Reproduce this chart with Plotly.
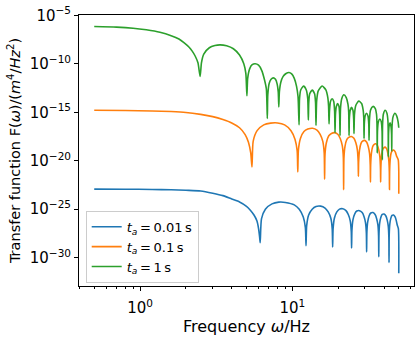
import plotly.graph_objects as go

# ---------------- data ----------------
# frequency in Hz, transfer function given as log10 of its value
freq_blue = [0.5, 0.8, 1.2, 1.6, 2.0, 2.5, 3.0, 3.5, 4.0, 4.5, 5.0, 5.3, 5.6, 5.85, 6.0, 6.1, 6.15,
             6.27, 6.65, 7.35, 8.15, 9.0, 10.3, 11.1, 11.8, 12.18, 12.3,
             12.42, 12.8, 13.5, 14.3, 15.35, 16.4, 17.2, 17.9, 18.28, 18.4,
             18.52, 18.9, 19.6, 20.4, 21.45, 22.5, 23.3, 24.0, 24.38, 24.5,
             24.62, 25.0, 25.7, 26.5, 27.6, 28.75, 29.55, 30.25, 30.63, 30.75,
             30.87, 31.25, 31.95, 32.75, 33.85, 34.95, 35.75, 36.45, 36.83, 36.95,
             37.07, 37.45, 38.15, 38.95, 40.05, 41.15, 41.95, 42.65, 43.03, 43.15,
             43.27, 43.65, 44.35, 45.15, 46.2, 47.3, 48.1, 48.8, 49.7, 50.0]
log10F_blue = [-22.93, -22.94, -22.96, -23.0, -23.05, -23.12, -23.35, -23.6, -23.95, -24.25, -24.7, -25.1, -25.6, -26.2, -27.0, -27.9, -28.45,
               -26.0, -25.0, -24.45, -24.27, -24.3, -24.55, -25.0, -25.8, -26.9, -28.76,
               -26.7, -25.6, -25.0, -24.72, -24.68, -24.88, -25.28, -25.93, -27.03, -28.9,
               -27.0, -25.9, -25.27, -24.99, -24.95, -25.15, -25.55, -26.2, -27.3, -29.0,
               -27.2, -26.1, -25.47, -25.19, -25.15, -25.35, -25.75, -26.4, -27.5, -29.4,
               -27.4, -26.3, -25.67, -25.39, -25.35, -25.55, -25.95, -26.6, -27.7, -29.9,
               -27.55, -26.45, -25.82, -25.54, -25.5, -25.7, -26.1, -26.75, -27.85, -30.5,
               -27.65, -26.55, -25.92, -25.64, -25.6, -25.8, -26.15, -26.6, -27.0, -31.6]

freq_orange = [0.5, 0.8, 1.2, 1.6, 2.0, 2.5, 3.0, 3.5, 4.0, 4.5, 4.9, 5.15, 5.33, 5.43,
               5.53, 5.87, 6.49, 7.2, 8.0, 8.9, 9.8, 10.42, 10.76, 10.86,
               10.96, 11.3, 11.92, 12.63, 13.57, 14.52, 15.23, 15.85, 16.19, 16.29,
               16.39, 16.73, 17.35, 18.06, 19.0, 19.95, 20.66, 21.28, 21.62, 21.72,
               21.82, 22.16, 22.78, 23.49, 24.43, 25.38, 26.09, 26.71, 27.05, 27.15,
               27.25, 27.59, 28.21, 28.92, 29.86, 30.81, 31.52, 32.14, 32.48, 32.58,
               32.68, 33.02, 33.64, 34.35, 35.3, 36.24, 36.95, 37.57, 37.91, 38.01,
               38.11, 38.45, 39.07, 39.78, 40.72, 41.67, 42.38, 43.0, 43.34, 43.44,
               43.54, 43.88, 44.5, 45.21, 46.3, 47.4, 48.3, 49.6, 50.0]
log10F_orange = [-14.8, -14.82, -14.87, -14.93, -15.02, -15.22, -15.45, -15.75, -16.1, -16.6, -17.3, -18.1, -19.2, -20.64,
                 -18.0, -16.9, -16.3, -16.12, -16.1, -16.3, -16.9, -17.8, -19.0, -21.15,
                 -18.9, -17.7, -16.98, -16.74, -16.65, -16.84, -17.28, -18.0, -19.2, -21.9,
                 -19.35, -18.15, -17.43, -17.19, -17.1, -17.29, -17.73, -18.45, -19.65, -23.0,
                 -19.75, -18.55, -17.83, -17.59, -17.5, -17.69, -18.13, -18.85, -20.05, -21.6,
                 -20.15, -18.95, -18.23, -17.99, -17.9, -18.09, -18.53, -19.25, -20.45, -22.2,
                 -20.5, -19.3, -18.58, -18.34, -18.25, -18.44, -18.88, -19.6, -20.8, -22.2,
                 -20.85, -19.65, -18.93, -18.69, -18.6, -18.79, -19.23, -19.95, -21.15, -22.96,
                 -21.15, -19.95, -19.23, -18.99, -18.9, -19.09, -19.5, -19.9, -23.4]

freq_green = [0.5, 0.7, 0.9, 1.1, 1.35, 1.6, 1.8, 1.95, 2.1, 2.2, 2.3, 2.4, 2.48,
              2.53, 2.62, 2.85, 3.1, 3.35, 3.7, 4.1, 4.5, 4.8, 4.95, 5.03,
              5.09, 5.25, 5.45, 5.7, 6.0, 6.3, 6.55, 6.75, 6.85,
              6.9, 7.05, 7.25, 7.5, 7.75, 7.95, 8.08, 8.15,
              8.22, 8.4, 8.7, 9.1, 9.5, 9.9, 10.3, 10.65, 10.9, 11.07,
              11.15, 11.35, 11.85, 12.35, 12.62, 12.74,
              12.82, 13.0, 13.5, 14.0, 14.2, 14.3,
              14.45, 14.8, 15.7, 16.6, 17.1, 17.3, 17.42,
              17.55, 17.8, 18.25, 18.7, 18.95, 19.07,
              19.2, 19.45, 19.85, 20.25, 20.45, 20.57,
              20.72, 21.1, 21.8, 22.6, 23.2, 23.45, 23.57,
              23.7, 24.0, 24.5, 25.0, 25.28, 25.4,
              25.6, 26.1, 27.3, 28.5, 29.2, 29.45, 29.57,
              29.7, 30.05, 30.75, 31.4, 31.78, 31.9,
              32.1, 32.6, 33.8, 35.0, 35.7, 35.95, 36.1,
              36.25, 36.7, 37.6, 38.4, 38.85, 38.99,
              39.15, 39.6, 40.7, 41.8, 42.4, 42.58, 42.7,
              42.85, 43.2, 43.8, 44.5, 44.85, 44.96,
              45.15, 45.8, 47.2, 48.5, 49.5, 50.0]
log10F_green = [-6.16, -6.22, -6.33, -6.5, -6.75, -7.1, -7.45, -7.85, -8.3, -8.7, -9.2, -9.9, -11.3,
                -9.9, -9.0, -8.35, -8.12, -8.05, -8.15, -8.45, -9.1, -10.0, -11.0, -13.3,
                -11.5, -10.5, -10.1, -10.0, -10.15, -10.7, -11.6, -12.6, -15.65,
                -13.2, -12.0, -11.6, -11.45, -11.6, -12.1, -12.9, -14.45,
                -12.9, -11.9, -11.3, -11.0, -10.9, -11.05, -11.5, -12.3, -13.4, -16.3,
                -13.6, -12.7, -12.3, -12.7, -13.6, -15.8,
                -14.0, -13.1, -12.7, -13.1, -14.0, -16.35,
                -13.8, -12.8, -12.3, -12.7, -13.5, -14.4, -16.2,
                -14.8, -13.9, -13.6, -13.9, -14.9, -17.1,
                -15.2, -14.4, -14.1, -14.4, -15.3, -17.4,
                -14.6, -13.6, -13.2, -13.5, -14.2, -15.0, -17.4,
                -15.6, -14.8, -14.5, -14.8, -15.7, -17.2,
                -15.2, -14.3, -13.85, -14.1, -14.8, -15.6, -17.7,
                -16.2, -15.4, -15.1, -15.4, -16.3, -17.9,
                -15.8, -14.8, -14.4, -14.6, -15.2, -16.1, -19.2,
                -16.9, -16.0, -15.7, -16.0, -17.0, -19.9,
                -16.2, -15.2, -14.8, -15.1, -15.8, -16.6, -19.6,
                -17.2, -16.4, -16.1, -16.5, -17.3, -19.0,
                -16.5, -15.5, -15.1, -15.4, -16.0, -16.6]

series_names = ["<i>t</i><sub><i>a</i></sub>\u2009=\u20090.01\u2009s",
                "<i>t</i><sub><i>a</i></sub>\u2009=\u20090.1\u2009s",
                "<i>t</i><sub><i>a</i></sub>\u2009=\u20091\u2009s"]
series_colors = ["#1f77b4", "#ff7f0e", "#2ca02c"]

x_tick_vals = [1, 10]
x_tick_text = ["10<sup>0</sup>", "10<sup>1</sup>"]
x_minor_vals = [0.4, 0.5, 0.6, 0.7, 0.8, 0.9, 2, 3, 4, 5, 6, 7, 8, 9, 20, 30, 40, 50, 60]
y_tick_vals = [1e-5, 1e-10, 1e-15, 1e-20, 1e-25, 1e-30]
y_tick_text = ["10<sup>\u22125</sup>", "10<sup>\u221210</sup>", "10<sup>\u221215</sup>",
               "10<sup>\u221220</sup>", "10<sup>\u221225</sup>", "10<sup>\u221230</sup>"]

# ---------------- figure ----------------
fig = go.Figure()
all_f = [freq_blue, freq_orange, freq_green]
all_e = [log10F_blue, log10F_orange, log10F_green]
for f, e, c, n in zip(all_f, all_e, series_colors, series_names):
    fig.add_trace(go.Scatter(x=f, y=[10 ** v for v in e], mode="lines", name=n,
                             line=dict(color=c, width=1.6, shape="spline", smoothing=0.6)))

font_family = "DejaVu Sans"
fig.update_layout(
    template="none",
    width=420, height=342,
    margin=dict(l=79, r=6, t=15, b=56),
    paper_bgcolor="white", plot_bgcolor="white",
    font=dict(family=font_family, size=15, color="black"),
    showlegend=True,
    legend=dict(x=0.02, y=0.012, xanchor="left", yanchor="bottom",
                bgcolor="rgba(255,255,255,0.8)", bordercolor="#cccccc", borderwidth=1,
                font=dict(family=font_family, size=13, color="black"),
                tracegroupgap=0),
)
fig.update_xaxes(
    type="log", range=[-0.40103, 1.79897], automargin=False,
    showline=True, mirror=True, linecolor="black", linewidth=1,
    showgrid=False, zeroline=False,
    tickmode="array", tickvals=x_tick_vals, ticktext=x_tick_text,
    ticks="outside", ticklen=4, tickwidth=1, tickcolor="black",
    tickfont=dict(size=15), ticklabelstandoff=4,
    minor=dict(tickmode="array", tickvals=x_minor_vals, ticks="outside", ticklen=2,
               tickwidth=0.8, tickcolor="black", showgrid=False),
    title=dict(text="Frequency <i>ω</i>/Hz", font=dict(size=16), standoff=3),
)
fig.update_yaxes(
    type="log", range=[-32.92, -4.97], automargin=False,
    showline=True, mirror=True, linecolor="black", linewidth=1,
    showgrid=False, zeroline=False,
    tickmode="array", tickvals=y_tick_vals, ticktext=y_tick_text,
    ticks="outside", ticklen=4, tickwidth=1, tickcolor="black",
    tickfont=dict(size=15),
    title=dict(text="Transfer function F(<i>ω</i>)/(<i>m</i><sup>4</sup>/<i>Hz</i><sup>2</sup>)",
               font=dict(size=14.5), standoff=5),
)

fig.write_html("out.html", config={"displayModeBar": False},
               post_script="document.body.style.margin='0';document.body.style.overflow='hidden';")
